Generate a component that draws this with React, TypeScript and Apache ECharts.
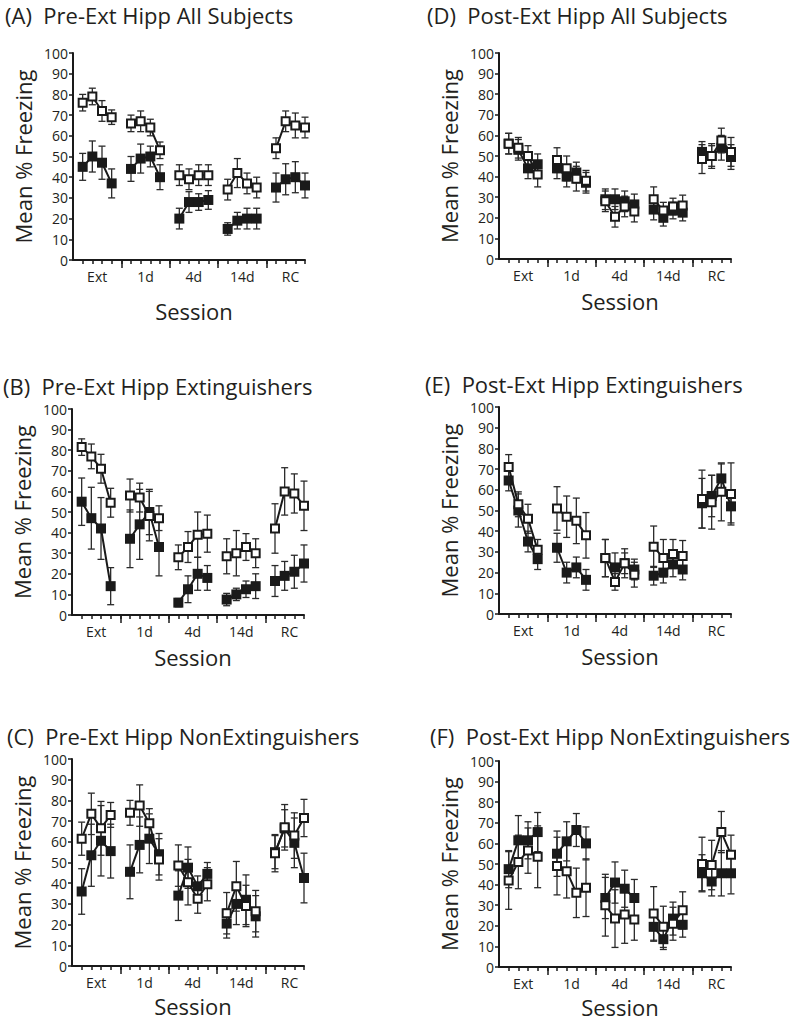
import React, { useEffect, useRef } from 'react';
import * as echarts from 'echarts';

const sessionLabels = ['Ext', '1d', '4d', '14d', 'RC'];
const trialPos = [1, 2, 3, 4, 6, 7, 8, 9, 11, 12, 13, 14, 16, 17, 18, 19, 21, 22, 23, 24];
const labelPos = [2.5, 7.5, 12.5, 17.5, 22.5];
const majorTicks = [5, 10, 15, 20];
const minorTicks = Array.from({ length: 24 }, (_, i) => i + 1);

// (A) Pre-Ext Hipp All Subjects
const aFilled = [45, 50, 47, 37, 44, 49, 50, 40, 20, 28, 28, 29, 15, 19, 20, 20, 35, 39, 40, 36];
const aFilledErr = [6.5, 7.5, 8, 7, 6, 7, 5, 6, 5, 5, 4, 4.5, 3, 4, 5, 5, 7, 7.5, 7.5, 6];
const aOpen = [76, 79, 72, 69, 66, 67, 64, 53, 41, 39, 41, 41, 34, 42, 37, 35, 54, 67, 65, 64];
const aOpenErr = [4, 4, 5, 3.5, 4, 5, 4, 4, 5, 5, 5, 5, 5, 7, 5, 5, 5, 5, 6, 5];

// (B) Pre-Ext Hipp Extinguishers
const bFilled = [55, 47, 42, 14, 37, 44, 50, 33, 6, 12.5, 20, 18, 7.5, 10, 12.5, 14, 16.5, 19, 21, 25];
const bFilledErr = [11.5, 15, 15, 9, 14, 17, 11, 14, 2, 6.5, 8, 6, 3, 3, 4, 6, 7.5, 7, 8, 9];
const bOpen = [81.5, 77, 71, 54.5, 58, 57, 48, 47, 28, 33, 39, 39.5, 28.5, 30, 33, 30, 42, 60, 59, 53];
const bOpenErr = [4, 6, 7, 7, 8, 7, 12, 6, 6, 7.5, 11, 9, 8.5, 11, 6.5, 7, 12, 11.5, 9.5, 12];

// (C) Pre-Ext Hipp NonExtinguishers
const cFilled = [36, 53.5, 60.5, 55.5, 45.5, 58.5, 61.5, 54, 34, 47.5, 38.5, 44.5, 20.5, 30, 32, 24, 55, 66.5, 59.5, 42.5];
const cFilledErr = [11, 15, 17, 13, 13, 13.5, 12, 10, 12, 10, 5, 5.5, 7, 10, 12, 10, 8, 9, 12, 12];
const cOpen = [61.5, 73.5, 66.5, 73, 74, 77.5, 69, 51.5, 48.5, 40.5, 32.5, 39.5, 25.5, 38.5, 29, 26.5, 54.5, 67, 63, 71.5];
const cOpenErr = [8, 10, 13, 6, 6, 10, 7, 10, 10, 11, 7, 8, 10, 12, 10, 10, 9, 11, 11, 9];

// (D) Post-Ext Hipp All Subjects
const dFilled = [56, 53, 44, 46, 44, 40, 42, 37, 29, 29, 28, 26.5, 24, 20, 23.5, 22.5, 52, 50, 54, 49.5];
const dFilledErr = [5, 5, 5, 5, 5, 5, 5, 5, 5, 5, 5, 5, 5, 4, 4, 4, 5, 5, 6, 6];
const dOpen = [56, 54, 50, 41, 48, 44, 39, 38, 28, 20.5, 25.5, 23, 29, 23.5, 25.5, 26, 48.5, 50, 57.5, 52];
const dOpenErr = [5, 5, 5, 6, 6, 6, 6, 5, 5, 5, 5, 5, 6, 4, 4, 5, 7, 6, 6, 7];

// (E) Post-Ext Hipp Extinguishers
const eFilled = [64.5, 50, 35, 26.5, 32, 20, 22.5, 16.5, 27, 22.5, 24.5, 21.5, 18.5, 20, 24, 21.5, 53.5, 57, 65.5, 52];
const eFilledErr = [5, 8, 5, 5, 7, 5, 5, 5, 9, 7, 5, 5, 4.5, 5, 6, 5, 12, 10, 7, 8];
const eOpen = [71, 53, 46, 31, 51, 47, 45, 38, 27, 15.5, 24.5, 19, 32.5, 27, 29, 28, 55.5, 54, 59, 58];
const eOpenErr = [6, 6, 7, 5, 10.5, 10, 11, 11, 9, 4, 7, 6, 10, 9, 7, 7.5, 14, 13, 14, 15];

// (F) Post-Ext Hipp NonExtinguishers
const fFilled = [47.5, 61.5, 61.5, 65.5, 55, 61, 66.5, 60, 33.5, 41, 38, 33.5, 19.5, 13.5, 23.5, 20.5, 45.5, 41.5, 45.5, 45.5];
const fFilledErr = [9, 12, 9, 9.5, 11, 9.5, 8, 8, 10, 10, 9, 9, 7, 5, 8, 6, 9, 7, 11, 10];
const fOpen = [42, 51, 56.5, 53.5, 49, 46.5, 36, 38.5, 30, 23.5, 25.5, 23, 26, 19.5, 21, 27.5, 50, 49.5, 65.5, 54.5];
const fOpenErr = [14, 13, 11, 15, 14, 13, 12, 14, 15, 14, 14, 10, 13, 10, 8, 9, 13, 12, 10, 9.5];

const panels = [
  { title: '(A)  Pre-Ext Hipp All Subjects', filled: aFilled, filledErr: aFilledErr, open: aOpen, openErr: aOpenErr },
  { title: '(B)  Pre-Ext Hipp Extinguishers', filled: bFilled, filledErr: bFilledErr, open: bOpen, openErr: bOpenErr },
  { title: '(C)  Pre-Ext Hipp NonExtinguishers', filled: cFilled, filledErr: cFilledErr, open: cOpen, openErr: cOpenErr },
  { title: '(D)  Post-Ext Hipp All Subjects', filled: dFilled, filledErr: dFilledErr, open: dOpen, openErr: dOpenErr },
  { title: '(E)  Post-Ext Hipp Extinguishers', filled: eFilled, filledErr: eFilledErr, open: eOpen, openErr: eOpenErr },
  { title: '(F)  Post-Ext Hipp NonExtinguishers', filled: fFilled, filledErr: fFilledErr, open: fOpen, openErr: fOpenErr },
];

const layout = [
  { left: 73, top: 53, height: 207, tx: 5, ty: 15, sGap: 40 },
  { left: 72, top: 409, height: 206, tx: 3, ty: 386, sGap: 31 },
  { left: 72, top: 759, height: 207, tx: 7, ty: 736, sGap: 29 },
  { left: 499, top: 53, height: 206, tx: 427, ty: 15, sGap: 31 },
  { left: 499, top: 407, height: 207, tx: 425, ty: 384, sGap: 31 },
  { left: 499, top: 761, height: 206, tx: 430, ty: 736, sGap: 29 },
];

const FONT = '"Open Sans", "Noto Sans", sans-serif';
const INK = '#1a1a1a';
const TEXT = '#231f20';

function withBreaks(vals: number[]) {
  const out: any[] = [];
  vals.forEach((v, k) => {
    if (k > 0 && k % 4 === 0) out.push([trialPos[k] - 1, null]);
    out.push([trialPos[k], v]);
  });
  return out;
}

function errorSeries(i: number, vals: number[], errs: number[], z: number) {
  return {
    type: 'custom',
    xAxisIndex: i * 2,
    yAxisIndex: i,
    z,
    silent: true,
    encode: { x: 0, y: 1 },
    data: vals.map((v, k) => [trialPos[k], v, errs[k]]),
    renderItem: (params: any, api: any) => {
      const x = api.value(0);
      const y = api.value(1);
      const e = api.value(2);
      const t = api.coord([x, y + e]);
      const b = api.coord([x, y - e]);
      const hw = 3.5;
      const style = { stroke: '#2a2a2a', lineWidth: 1.3 };
      return {
        type: 'group',
        children: [
          { type: 'line', shape: { x1: t[0], y1: t[1], x2: b[0], y2: b[1] }, style },
          { type: 'line', shape: { x1: t[0] - hw, y1: t[1], x2: t[0] + hw, y2: t[1] }, style },
          { type: 'line', shape: { x1: b[0] - hw, y1: b[1], x2: b[0] + hw, y2: b[1] }, style },
        ],
      };
    },
  };
}

export default function App() {
  const ref = useRef<HTMLDivElement>(null);
  useEffect(() => {
    if (!ref.current) return;
    const chart = echarts.init(ref.current, undefined, { renderer: 'svg' });
    const grid: any[] = [];
    const xAxis: any[] = [];
    const yAxis: any[] = [];
    const series: any[] = [];
    const title: any[] = [];
    panels.forEach((p, i) => {
      const L = layout[i];
      grid.push({ left: L.left, top: L.top, width: 232, height: L.height });
      title.push({
        text: p.title,
        left: L.tx,
        top: L.ty - 10,
        padding: 0,
        textStyle: { fontFamily: FONT, fontSize: 22, fontWeight: 'normal', color: TEXT, lineHeight: 20 },
      });
      xAxis.push({
        gridIndex: i,
        type: 'value',
        position: 'bottom',
        min: 0,
        max: 24,
        splitLine: { show: false },
        axisLine: { show: true, onZero: false, lineStyle: { color: INK, width: 2 } },
        axisTick: { show: true, customValues: minorTicks, length: 4, lineStyle: { color: INK, width: 1.5 } },
        axisLabel: {
          show: true,
          customValues: labelPos,
          formatter: (v: number) => sessionLabels[Math.round((v - 2.5) / 5)] ?? '',
          fontFamily: FONT,
          fontSize: 14,
          color: TEXT,
          margin: 9,
        },
        name: 'Session',
        nameLocation: 'middle',
        nameGap: L.sGap,
        nameTextStyle: { fontFamily: FONT, fontSize: 22, color: TEXT, lineHeight: 22, padding: [0, 0, 0, 10] },
      });
      xAxis.push({
        gridIndex: i,
        type: 'value',
        position: 'bottom',
        offset: 0,
        min: 0,
        max: 24,
        splitLine: { show: false },
        axisLine: { show: false, onZero: false },
        axisTick: { show: true, customValues: majorTicks, length: 8, lineStyle: { color: INK, width: 1.5 } },
        axisLabel: { show: false },
      });
      yAxis.push({
        gridIndex: i,
        type: 'value',
        min: 0,
        max: 100,
        interval: 10,
        splitLine: { show: false },
        axisLine: { show: true, onZero: false, lineStyle: { color: INK, width: 2 } },
        axisTick: { show: true, length: 4, lineStyle: { color: INK, width: 1.5 } },
        axisLabel: { fontFamily: FONT, fontSize: 14, color: TEXT, margin: 5, lineHeight: 14 },
        name: 'Mean % Freezing',
        nameLocation: 'middle',
        nameGap: 39,
        nameTextStyle: { fontFamily: FONT, fontSize: 22, color: TEXT },
      });
      series.push(errorSeries(i, p.filled, p.filledErr, 1));
      series.push(errorSeries(i, p.open, p.openErr, 1));
      series.push({
        type: 'line',
        xAxisIndex: i * 2,
        yAxisIndex: i,
        z: 3,
        data: withBreaks(p.filled),
        connectNulls: false,
        symbol: 'rect',
        symbolSize: 10,
        itemStyle: { color: INK },
        lineStyle: { color: INK, width: 2 },
      });
      series.push({
        type: 'line',
        xAxisIndex: i * 2,
        yAxisIndex: i,
        z: 4,
        data: withBreaks(p.open),
        connectNulls: false,
        symbol: 'rect',
        symbolSize: 8,
        itemStyle: { color: '#ffffff', borderColor: INK, borderWidth: 2 },
        lineStyle: { color: INK, width: 2 },
      });
    });
    chart.setOption({
      animation: false,
      backgroundColor: '#ffffff',
      title,
      grid,
      xAxis,
      yAxis,
      series,
    });
    return () => chart.dispose();
  }, []);
  return (
    <div
      ref={ref}
      style={{ position: 'absolute', left: 0, top: 0, width: 800, height: 1021 }}
    />
  );
}
